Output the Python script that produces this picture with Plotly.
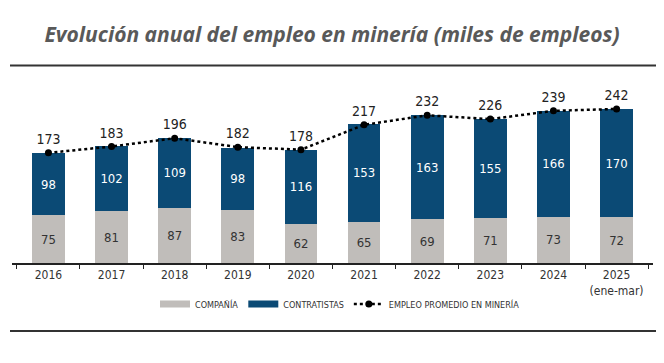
import plotly.graph_objects as go

years = ["2016", "2017", "2018", "2019", "2020", "2021", "2022", "2023", "2024", "2025<br>(ene-mar)"]
compania = [75, 81, 87, 83, 62, 65, 69, 71, 73, 72]
contratistas = [98, 102, 109, 98, 116, 153, 163, 155, 166, 170]
total = [173, 183, 196, 182, 178, 217, 232, 226, 239, 242]

GRAY = "#C0BDBA"
BLUE = "#0B4A75"
FONT = "Liberation Sans Narrow, DejaVu Sans Condensed, Arial Narrow, Liberation Sans, Arial"

W, H = 664, 363
L, R, T, B = 12, 11, 72, 100
pw, ph = W - L - R, H - T - B

fig = go.Figure()
fig.add_bar(x=years, y=compania, marker_color=GRAY, marker_line_width=0,
            text=compania, textposition="inside", insidetextanchor="middle",
            textfont=dict(color="#333333", size=13, family=FONT), showlegend=False,
            constraintext="none")
fig.add_bar(x=years, y=contratistas, marker_color=BLUE, marker_line_width=0,
            text=contratistas, textposition="inside", insidetextanchor="middle",
            textfont=dict(color="white", size=13, family=FONT), showlegend=False,
            constraintext="none")
fig.add_scatter(x=years, y=total, mode="lines+markers+text", text=total,
                textposition="top center", textfont=dict(color="#222222", size=14, family=FONT),
                line=dict(color="black", width=2.5, dash="dot"),
                marker=dict(color="black", size=7), showlegend=False, cliponaxis=False)

# legend entries
fig.add_scatter(x=[None], y=[None], mode="lines", name="COMPAÑÍA",
                line=dict(color=GRAY, width=7))
fig.add_scatter(x=[None], y=[None], mode="lines", name="CONTRATISTAS",
                line=dict(color=BLUE, width=7))
fig.add_scatter(x=[None], y=[None], mode="lines+markers", name="EMPLEO PROMEDIO EN MINERÍA",
                line=dict(color="black", width=2.5, dash="dot"), marker=dict(color="black", size=7))

def py2paper(py):
    return (H - B - py) / ph

def px2paper(px):
    return (px - L) / pw

for yy in (65.5, 331):
    fig.add_shape(type="line", xref="paper", yref="paper",
                  x0=px2paper(10), x1=px2paper(656), y0=py2paper(yy), y1=py2paper(yy),
                  line=dict(color="#333333", width=2))

fig.update_layout(
    width=W, height=H, barmode="stack", bargap=0.48,
    margin=dict(l=L, r=R, t=T, b=B),
    paper_bgcolor="white", plot_bgcolor="white",
    title=dict(text="Evolución anual del empleo en minería (miles de empleos)",
               x=0.5, xanchor="center", xref="container",
               y=1 - 35 / H, yanchor="middle", yref="container",
               font=dict(family="Open Sans", size=21, color="#595959", weight="bold", style="italic")),
    legend=dict(orientation="h", x=px2paper(340), xanchor="center",
                y=py2paper(304), yanchor="middle", traceorder="normal",
                font=dict(family=FONT, size=9, color="#333333"),
                itemwidth=30, tracegroupgap=0),
    xaxis=dict(showline=True, linecolor="#222222", linewidth=2, ticks="outside",
               tickson="boundaries", ticklen=4, tickcolor="#222222",
               tickfont=dict(family=FONT, size=12, color="#333333"), showgrid=False),
    yaxis=dict(range=[0, 300], visible=False, showgrid=False),
)

fig.write_html("out.html", config={"displayModeBar": False},
               post_script="document.body.style.margin='0';document.body.style.overflow='hidden';")
